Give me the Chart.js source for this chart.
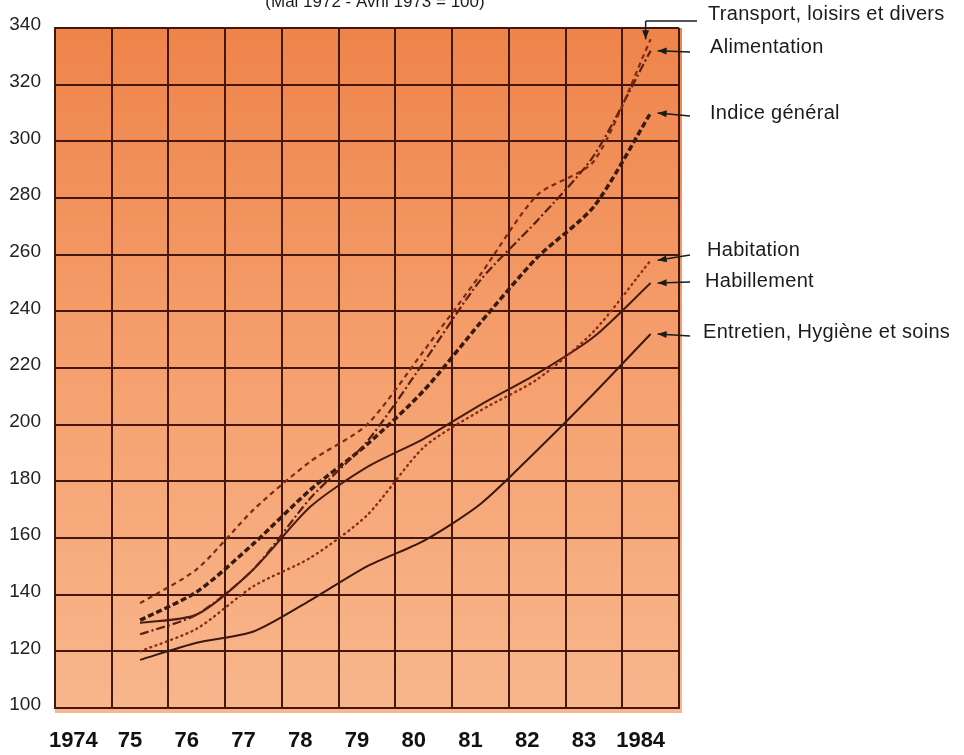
<!doctype html>
<html lang="fr">
<head>
<meta charset="utf-8">
<script src="https://cdn.jsdelivr.net/npm/chart.js"></script>
<style>
  body { margin: 0; background: #fff; }
  #wrap { width: 964px; height: 755px; }
</style>
</head>
<body>
<div id="wrap">
  <canvas id="myChart" width="964" height="755"></canvas>
</div>

<script>
  // annees (axe horizontal)
  const years = ['1974', '75', '76', '77', '78', '79', '80', '81', '82', '83', '1984'];

  // indices (1974 = pas de valeur)
  const transport = [null, 137, 149, 170, 187, 200, 226, 253, 281, 293, 336];
  const alimentation = [null, 126, 133, 149, 174, 194, 222, 251, 272, 295, 332];
  const indiceGeneral = [null, 131, 141, 158, 177, 193, 212, 236, 259, 277, 310];
  const habitation = [null, 120, 128, 143, 153, 168, 192, 205, 216, 233, 258];
  const habillement = [null, 130, 133, 149, 171, 185, 195, 207, 218, 231, 250];
  const entretien = [null, 117, 123, 127, 138, 150, 159, 172, 191, 211, 232];

  const yMin = 100, yMax = 340, yStep = 20;
  const title = '(Mai 1972 - Avril 1973 = 100)';

  const gridColor = '#45160c';
  const labelFont = "'Liberation Sans', Arial, sans-serif";

  // fond orange degrade de la zone du graphique
  const bgPlugin = {
    id: 'bg',
    beforeDraw(chart) {
      const a = chart.chartArea;
      const ctx = chart.ctx;
      const g = ctx.createLinearGradient(0, a.top, 0, a.bottom);
      g.addColorStop(0, 'rgb(238,132,74)');
      g.addColorStop(0.5, 'rgb(245,160,110)');
      g.addColorStop(1, 'rgb(248,182,140)');
      ctx.save();
      ctx.fillStyle = g;
      ctx.fillRect(a.left, a.top, a.right - a.left + 3, a.bottom - a.top + 5);
      ctx.restore();
    }
  };

  function arrow(ctx, x1, y1, x2, y2) {
    ctx.beginPath();
    ctx.moveTo(x1, y1);
    ctx.lineTo(x2, y2);
    ctx.stroke();
    const ang = Math.atan2(y2 - y1, x2 - x1);
    ctx.beginPath();
    ctx.moveTo(x2, y2);
    ctx.lineTo(x2 - 9 * Math.cos(ang) + 3.5 * Math.sin(ang), y2 - 9 * Math.sin(ang) - 3.5 * Math.cos(ang));
    ctx.lineTo(x2 - 9 * Math.cos(ang) - 3.5 * Math.sin(ang), y2 - 9 * Math.sin(ang) + 3.5 * Math.cos(ang));
    ctx.closePath();
    ctx.fill();
  }

  // titre coupe en haut + libelles a droite avec fleches
  const notesPlugin = {
    id: 'notes',
    afterDraw(chart) {
      const ctx = chart.ctx;
      const xs = chart.scales.x, ys = chart.scales.y;
      const last = years.length - 1;
      const xEnd = xs.getPixelForValue(last);
      ctx.save();
      ctx.fillStyle = '#1b1b1b';
      ctx.strokeStyle = '#1b1b1b';
      ctx.lineWidth = 1.5;

      ctx.font = '17px ' + labelFont;
      ctx.textAlign = 'center';
      ctx.textBaseline = 'alphabetic';
      ctx.fillText(title, 375, 7);

      ctx.font = '20px ' + labelFont;
      ctx.letterSpacing = '0.3px';
      ctx.textAlign = 'left';
      ctx.textBaseline = 'middle';

      // Transport : trait horizontal puis vertical
      ctx.fillText('Transport, loisirs et divers', 708, 14);
      const tx = xEnd - 5;
      const ty = ys.getPixelForValue(transport[last]);
      ctx.beginPath();
      ctx.moveTo(697, 21);
      ctx.lineTo(tx, 21);
      ctx.stroke();
      arrow(ctx, tx, 21, tx, ty);

      const notes = [
        ['Alimentation', alimentation, 710, 47, 52],
        ['Indice général', indiceGeneral, 710, 113, 116],
        ['Habitation', habitation, 707, 250, 255],
        ['Habillement', habillement, 705, 281, 282],
        ['Entretien, Hygiène et soins', entretien, 703, 332, 336]
      ];
      notes.forEach(n => {
        ctx.fillText(n[0], n[2], n[3]);
        arrow(ctx, 690, n[4], xEnd + 7, ys.getPixelForValue(n[1][last]));
      });
      ctx.restore();
    }
  };

  const datasets = [
    { label: 'Transport, loisirs et divers', data: transport, borderColor: '#7c2a16', borderWidth: 2.2, borderDash: [5, 4] },
    { label: 'Alimentation', data: alimentation, borderColor: '#5c2012', borderWidth: 2.2, borderDash: [9, 3, 2, 3] },
    { label: 'Indice général', data: indiceGeneral, borderColor: '#3a1a10', borderWidth: 3.5, borderDash: [6, 3] },
    { label: 'Habitation', data: habitation, borderColor: '#8a2c18', borderWidth: 2.4, borderDash: [1, 4.5], borderCapStyle: 'round' },
    { label: 'Habillement', data: habillement, borderColor: '#4a1a10', borderWidth: 2 },
    { label: 'Entretien, Hygiène et soins', data: entretien, borderColor: '#3a1810', borderWidth: 2 }
  ];
  datasets.forEach(d => {
    d.pointRadius = 0;
    d.tension = 0.25;
    d.fill = false;
  });

  var canvas = document.getElementById('myChart');
  var setup = {
    type: 'line',
    data: { labels: years, datasets: datasets },
    options: {
      responsive: false,
      animation: false,
      layout: { padding: { top: 28, right: 285, bottom: 0, left: 0 } },
      plugins: {
        legend: { display: false },
        tooltip: { enabled: false }
      },
      scales: {
        x: {
          type: 'category',
          offset: true,
          grid: { offset: true, color: gridColor, lineWidth: 2, drawTicks: false },
          border: { color: gridColor, width: 2 },
          ticks: {
            color: '#111',
            font: { family: labelFont, size: 22, weight: 'bold' },
            padding: 20,
            labelOffset: -10,
            maxRotation: 0,
            autoSkip: false
          },
          afterFit(scale) { scale.height = 47; }
        },
        y: {
          min: yMin,
          max: yMax,
          grid: { color: gridColor, lineWidth: 2, drawTicks: false },
          border: { color: gridColor, width: 2 },
          ticks: {
            stepSize: yStep,
            color: '#222',
            font: { family: labelFont, size: 19 },
            padding: 14,
            labelOffset: -3
          },
          afterFit(scale) { scale.width = 55; }
        }
      }
    },
    plugins: [bgPlugin, notesPlugin]
  };
  chart = new Chart(canvas, setup);
</script>
</body>
</html>
